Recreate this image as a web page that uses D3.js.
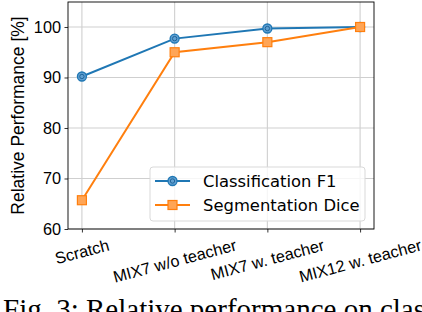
<!DOCTYPE html>
<html><head><meta charset="utf-8">
<script src="https://cdn.jsdelivr.net/npm/d3@7"></script>
<style>body{margin:0;background:#fff}svg{display:block}</style>
</head><body>
<svg id="c" width="422" height="312"></svg>
<script>
const categories = ["Scratch","MIX7 w/o teacher","MIX7 w. teacher","MIX12 w. teacher"];
const classificationF1 = [90.2, 97.7, 99.7, 100.0];
const segmentationDice = [65.7, 95.0, 97.0, 100.0];
const yTicks = [60,70,80,90,100];
const seriesNames = ["Classification F1","Segmentation Dice"];

const svg = d3.select("#c");
const L=68, R=374, T=2, B=229;
const tickFont = "Liberation Sans, Arial, sans-serif";
const legFont = "DejaVu Sans, sans-serif";
const fs = 16.3;
const x = d3.scaleLinear().domain([-0.15, 3.15]).range([L,R]);
const y = d3.scaleLinear().domain([60, 104.95]).range([B,T]);

// grid
const g = svg.append("g");
g.selectAll(".vg").data(categories).join("line")
  .attr("x1",(d,i)=>x(i)).attr("x2",(d,i)=>x(i)).attr("y1",T).attr("y2",B)
  .attr("stroke","#cfcfcf").attr("stroke-width",1.1);
g.selectAll(".hg").data(yTicks).join("line")
  .attr("x1",L).attr("x2",R).attr("y1",d=>y(d)).attr("y2",d=>y(d))
  .attr("stroke","#cfcfcf").attr("stroke-width",1.1);

// axes
const yAxis = d3.axisLeft(y).tickValues(yTicks).tickSize(3.5).tickPadding(3.5);
const ya = svg.append("g").attr("transform",`translate(${L},0)`).call(yAxis);
ya.select(".domain").remove();
ya.selectAll("text").attr("font-family",tickFont).attr("font-size",fs).attr("fill","#000");
ya.selectAll("line").attr("stroke","#000").attr("stroke-width",0.8);

const xAxis = d3.axisBottom(x).tickValues(d3.range(categories.length)).tickSize(3.5).tickFormat("");
const xa = svg.append("g").attr("transform",`translate(0,${B})`).call(xAxis);
xa.select(".domain").remove();
xa.selectAll("line").attr("stroke","#000").attr("stroke-width",0.8);

// rotated x labels
const ang = 15*Math.PI/180;
const lbl = svg.append("g");
categories.forEach((c,i)=>{
  const t = lbl.append("text").text(c).attr("font-family",tickFont).attr("font-size",fs)
    .attr("text-anchor","middle").attr("dominant-baseline","central");
  const w = t.node().getComputedTextLength();
  const h = fs*1.05;
  const bh = w*Math.sin(ang)+h*Math.cos(ang);
  const cy = B+3.5+3.5+bh/2;
  t.attr("transform",`translate(${x(i)},${cy}) rotate(-15)`);
});

// frame
svg.append("rect").attr("x",L).attr("y",T).attr("width",R-L).attr("height",B-T)
  .attr("fill","none").attr("stroke","#000").attr("stroke-width",0.9);

// y label
svg.append("text").text("Relative Performance [%]").attr("font-family",tickFont).attr("font-size",17.5)
  .attr("text-anchor","middle").attr("dominant-baseline","central")
  .attr("transform",`translate(18,${(T+B)/2}) rotate(-90)`);

// series
const colors = ["#1f77b4","#ff7f0e"];
const data = [classificationF1, segmentationDice];
const line = d3.line().x((d,i)=>x(i)).y(d=>y(d));
function circleMarker(sel,cx,cy,col){
  sel.append("circle").attr("cx",cx).attr("cy",cy).attr("r",4.5)
    .attr("fill","#5f9fd1").attr("stroke",col).attr("stroke-width",1.3);
  sel.append("circle").attr("cx",cx).attr("cy",cy).attr("r",2.2)
    .attr("fill","none").attr("stroke","#1a5f94").attr("stroke-width",0.9);
}
function squareMarker(sel,cx,cy,col){
  sel.append("rect").attr("x",cx-4.5).attr("y",cy-4.5).attr("width",9).attr("height",9)
    .attr("fill","#ffa556").attr("stroke",col).attr("stroke-width",1.2);
}
data.forEach((vals,si)=>{
  const sg = svg.append("g");
  sg.append("path").datum(vals).attr("d",line).attr("fill","none")
    .attr("stroke",colors[si]).attr("stroke-width",2);
  vals.forEach((v,i)=>{
    if(si===0) circleMarker(sg,x(i),y(v),colors[si]);
    else squareMarker(sg,x(i),y(v),colors[si]);
  });
});

// legend
const lg = svg.append("g");
lg.append("rect").attr("x",150).attr("y",167).attr("width",215).attr("height",54)
  .attr("rx",3).attr("fill","#fff").attr("fill-opacity",0.8).attr("stroke","#d9d9d9").attr("stroke-width",1);
const rows=[181,205];
seriesNames.forEach((n,si)=>{
  lg.append("line").attr("x1",155).attr("x2",190).attr("y1",rows[si]).attr("y2",rows[si])
    .attr("stroke",colors[si]).attr("stroke-width",2);
  if(si===0) circleMarker(lg,172.5,rows[si],colors[si]); else squareMarker(lg,172.5,rows[si],colors[si]);
  lg.append("text").text(n).attr("x",203).attr("y",rows[si]).attr("dominant-baseline","central")
    .attr("font-family",legFont).attr("font-size",16.4);
});

// caption (cut off by the bottom edge, as in the reference)
svg.append("text").text("Fig. 3: Relative performance on clas").attr("x",3).attr("y",319)
  .attr("font-family","Liberation Serif, Times New Roman, serif").attr("font-size",29).attr("fill","#000");
</script>
</body></html>
